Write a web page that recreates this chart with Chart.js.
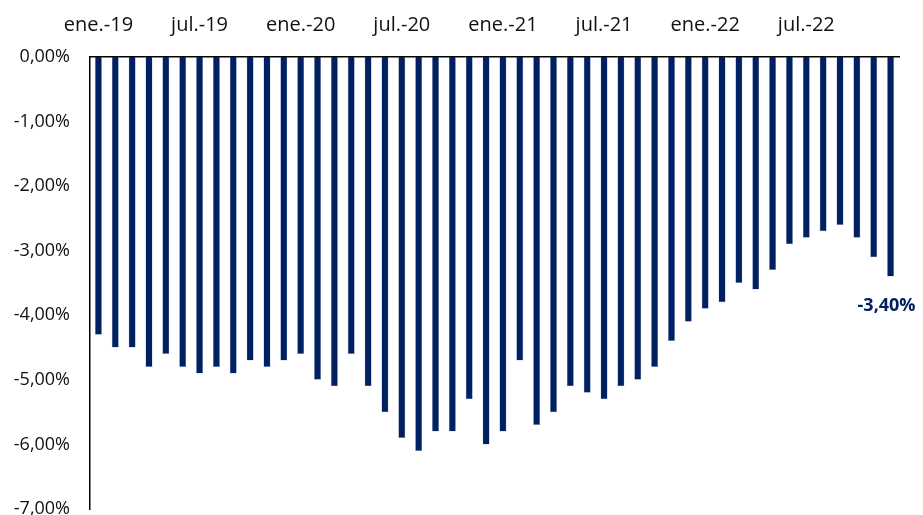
<!DOCTYPE html>
<html>
<head>
<meta charset="utf-8">
<script src="https://cdn.jsdelivr.net/npm/chart.js@4/dist/chart.umd.min.js"></script>
<style>
  html, body { margin: 0; padding: 0; background: #fff; }
  #wrap { width: 923px; height: 515px; }
</style>
</head>
<body>
<div id="wrap"><canvas id="deficitChart" width="923" height="515"></canvas></div>
<script>
  // Datos mensuales, ene.-19 a dic.-22
  const meses = [
    'ene.-19', 'feb.-19', 'mar.-19', 'abr.-19', 'may.-19', 'jun.-19', 'jul.-19', 'ago.-19', 'sept.-19', 'oct.-19', 'nov.-19', 'dic.-19',
    'ene.-20', 'feb.-20', 'mar.-20', 'abr.-20', 'may.-20', 'jun.-20', 'jul.-20', 'ago.-20', 'sept.-20', 'oct.-20', 'nov.-20', 'dic.-20',
    'ene.-21', 'feb.-21', 'mar.-21', 'abr.-21', 'may.-21', 'jun.-21', 'jul.-21', 'ago.-21', 'sept.-21', 'oct.-21', 'nov.-21', 'dic.-21',
    'ene.-22', 'feb.-22', 'mar.-22', 'abr.-22', 'may.-22', 'jun.-22', 'jul.-22', 'ago.-22', 'sept.-22', 'oct.-22', 'nov.-22', 'dic.-22'
  ];
  const valores = [
    -4.3, -4.5, -4.5, -4.8, -4.6, -4.8, -4.9, -4.8, -4.9, -4.7, -4.8, -4.7,
    -4.6, -5.0, -5.1, -4.6, -5.1, -5.5, -5.9, -6.1, -5.8, -5.8, -5.3, -6.0,
    -5.8, -4.7, -5.7, -5.5, -5.1, -5.2, -5.3, -5.1, -5.0, -4.8, -4.4, -4.1,
    -3.9, -3.8, -3.5, -3.6, -3.3, -2.9, -2.8, -2.7, -2.6, -2.8, -3.1, -3.4
  ];
  const yMin = -7;
  const yMax = 0;

  const fmt = v => v.toFixed(2).replace('.', ',') + '%';

  // etiqueta del último dato
  const lastLabel = {
    id: 'lastLabel',
    afterDatasetsDraw(chart) {
      const meta = chart.getDatasetMeta(0);
      const i = valores.length - 1;
      const bar = meta.data[i];
      const ctx = chart.ctx;
      ctx.save();
      ctx.font = 'bold 18px "Open Sans"';
      ctx.fillStyle = '#002060';
      ctx.textAlign = 'center';
      ctx.textBaseline = 'middle';
      ctx.fillText(fmt(valores[i]), bar.x - 4, bar.y + 29);
      ctx.restore();
    }
  };

  const ctx = document.getElementById('deficitChart').getContext('2d');
  new Chart(ctx, {
    type: 'bar',
    data: {
      labels: meses,
      datasets: [{
        data: valores,
        backgroundColor: '#002060',
        borderColor: '#8fa3c7',
        borderWidth: { left: 0.5, right: 0.5, bottom: 0.5, top: 0 },
        barPercentage: 0.8,
        categoryPercentage: 0.52
      }]
    },
    options: {
      responsive: false,
      animation: false,
      layout: { autoPadding: false, padding: { top: 0, right: 24, bottom: 6, left: 0 } },
      plugins: {
        legend: { display: false },
        tooltip: { enabled: false }
      },
      scales: {
        x: {
          position: 'top',
          grid: { display: false, drawTicks: false },
          border: { color: '#000', width: 1.5 },
          ticks: {
            autoSkip: false,
            maxRotation: 0,
            padding: 20,
            color: '#111',
            font: { family: 'Open Sans', size: 20 },
            callback: (v, i) => (i % 6 === 0 ? meses[i] : '')
          },
          afterFit: s => { s.height = 57; s.paddingLeft = 0; s.paddingRight = 0; }
        },
        y: {
          min: yMin,
          max: yMax,
          grid: { display: false, drawTicks: false },
          border: { color: '#000', width: 1.5 },
          ticks: {
            stepSize: 1,
            padding: 20,
            color: '#111',
            font: { family: 'Open Sans', size: 18 },
            callback: v => fmt(v)
          },
          afterFit: s => { s.width = 90; s.paddingTop = 0; s.paddingBottom = 0; }
        }
      }
    },
    plugins: [lastLabel]
  });
</script>
</body>
</html>
